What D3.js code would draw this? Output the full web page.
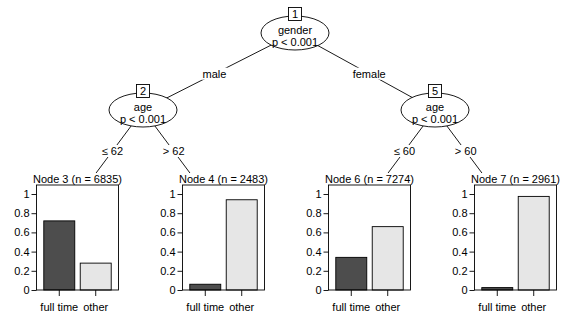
<!DOCTYPE html>
<html>
<head>
<meta charset="utf-8">
<script src="https://cdn.jsdelivr.net/npm/d3@7"></script>
<style>
	body { margin: 0; background: #fff; }
	svg text { font-family: "Liberation Sans", Arial, Helvetica, sans-serif; font-size: 11px; fill: #000; }
</style>
</head>
<body>
<svg id="tree" width="564" height="317"></svg>
<script>
// tree structure
const innerNodes = [
	{ id: 1, variable: 'gender', p: 'p < 0.001', kids: [2, 5], edges: ['male', 'female'] },
	{ id: 2, variable: 'age', p: 'p < 0.001', kids: [3, 4], edges: ['\u2264 62', '> 62'] },
	{ id: 5, variable: 'age', p: 'p < 0.001', kids: [6, 7], edges: ['\u2264 60', '> 60'] },
];
const terminalIds = [3, 4, 6, 7];
const terminalN = [6835, 2483, 7274, 2961];
const classes = ['full time', 'other'];
const fullTimeShare = [0.72, 0.06, 0.34, 0.025];
const otherShare = [0.28, 0.94, 0.66, 0.975];
const yTicks = [0, 0.2, 0.4, 0.6, 0.8, 1];
const barColors = ['#4D4D4D', '#E6E6E6'];

const svg = d3.select('svg[id=tree]');

const BOX_W = 82;
const BOX_OFFSET = 6.5; // plot box sits right of the panel centre (room for y labels)
const LEVEL_Y = [33, 110]; // ellipse centres of inner nodes by depth
const TERM_Y = 208; // where edges to terminal panels point
const ROOT_SHIFT = 6; // root sits a little right of the exact midpoint in the original

const xTerm = d3.scalePoint().domain(terminalIds).range([70, 508]);

// node positions
const pos = {};
terminalIds.forEach((id) => (pos[id] = { x: xTerm(id), y: TERM_Y }));
function place(id, depth) {
	const node = innerNodes.find((n) => n.id === id);
	if (!node) return pos[id].x;
	const xs = node.kids.map((k) => place(k, depth + 1));
	pos[id] = { x: d3.mean(xs) + (depth === 0 ? ROOT_SHIFT : 0), y: LEVEL_Y[depth] };
	return pos[id].x;
}
place(1, 0);

const edges = [];
innerNodes.forEach((n) =>
	n.kids.forEach((k, i) => edges.push({ from: pos[n.id], to: pos[k], label: n.edges[i] }))
);

// edge lines
svg.selectAll('.edge')
	.data(edges)
	.join('line')
	.attr('class', 'edge')
	.attr('x1', (e) => e.from.x)
	.attr('y1', (e) => e.from.y)
	.attr('x2', (e) => e.to.x)
	.attr('y2', (e) => e.to.y)
	.attr('stroke', '#000')
	.attr('stroke-width', 0.9);

// edge labels with white backing
const edgeLabel = svg.selectAll('.edge-label')
	.data(edges)
	.join('g')
	.attr('class', 'edge-label')
	.attr('transform', (e) => {
		const t = e.to.y === TERM_Y ? 0.42 : 0.53;
		const x = e.from.x + (e.to.x - e.from.x) * t;
		const y = e.from.y + (e.to.y - e.from.y) * t;
		return 'translate(' + [x, y] + ')';
	});
edgeLabel.append('text')
	.attr('text-anchor', 'middle')
	.attr('dy', '0.35em')
	.text((e) => e.label);
edgeLabel.each(function () {
	const g = d3.select(this);
	const bb = g.select('text').node().getBBox();
	g.insert('rect', 'text')
		.attr('x', bb.x - 1)
		.attr('y', bb.y)
		.attr('width', bb.width + 2)
		.attr('height', bb.height)
		.attr('fill', '#fff');
});

// inner nodes
const inner = svg.selectAll('.inner')
	.data(innerNodes)
	.join('g')
	.attr('class', 'inner')
	.attr('transform', (n) => 'translate(' + [pos[n.id].x, pos[n.id].y] + ')');
inner.append('ellipse')
	.attr('rx', 34)
	.attr('ry', 17)
	.attr('fill', '#fff')
	.attr('stroke', '#000')
	.attr('stroke-width', 0.9);
inner.append('text')
	.attr('text-anchor', 'middle')
	.attr('y', 0.5)
	.text((n) => n.variable);
inner.append('text')
	.attr('text-anchor', 'middle')
	.attr('y', 13)
	.text((n) => n.p);
inner.append('rect')
	.attr('x', -6.5)
	.attr('y', -25.5)
	.attr('width', 13)
	.attr('height', 13)
	.attr('fill', '#fff')
	.attr('stroke', '#000')
	.attr('stroke-width', 0.9);
inner.append('text')
	.attr('text-anchor', 'middle')
	.attr('y', -15)
	.text((n) => n.id);

// terminal panels
const y = d3.scaleLinear().domain([0, 1]).range([290, 194]);
const BOX_TOP = 185;

const panels = terminalIds.map((id, i) => ({
	id,
	n: terminalN[i],
	values: [fullTimeShare[i], otherShare[i]],
	left: Math.round(xTerm(id) + BOX_OFFSET - BOX_W / 2) + 0.5,
}));

const panel = svg.selectAll('.terminal')
	.data(panels)
	.join('g')
	.attr('class', 'terminal')
	.attr('transform', (d) => 'translate(' + [d.left, 0] + ')');

panel.append('rect')
	.attr('x', -34)
	.attr('y', 173)
	.attr('width', BOX_W + 40)
	.attr('height', 144)
	.attr('fill', '#fff');

panel.append('text')
	.attr('x', BOX_W / 2)
	.attr('y', 183)
	.attr('text-anchor', 'middle')
	.text((d) => 'Node ' + d.id + ' (n = ' + d.n + ')');

panel.each(function (d) {
	const g = d3.select(this);
	const x = d3.scaleBand().domain(classes).range([0, BOX_W]).paddingInner(0.15).paddingOuter(0.2);

	g.selectAll('.bar')
		.data(classes.map((c, i) => ({ c, v: d.values[i], color: barColors[i] })))
		.join('rect')
		.attr('class', 'bar')
		.attr('x', (b) => x(b.c))
		.attr('width', x.bandwidth())
		.attr('y', (b) => y(b.v))
		.attr('height', (b) => y(0) - y(b.v))
		.attr('fill', (b) => b.color)
		.attr('stroke', '#000')
		.attr('stroke-width', 0.9);

	g.append('rect')
		.attr('x', 0)
		.attr('y', BOX_TOP)
		.attr('width', BOX_W)
		.attr('height', y(0) - BOX_TOP)
		.attr('fill', 'none')
		.attr('stroke', '#000')
		.attr('stroke-width', 0.9);

	const yAxis = g.append('g')
		.call(d3.axisLeft(y).tickValues(yTicks).tickSize(5).tickPadding(2).tickFormat((v) => String(v)));
	const xAxis = g.append('g')
		.attr('transform', 'translate(0,' + y(0) + ')')
		.call(d3.axisBottom(x).tickSize(6).tickPadding(7));
	[yAxis, xAxis].forEach((a) => {
		a.select('.domain').remove();
		a.attr('font-family', null).attr('font-size', null);
		a.selectAll('line').attr('stroke', '#000').attr('stroke-width', 0.9);
	});
});
</script>
</body>
</html>
